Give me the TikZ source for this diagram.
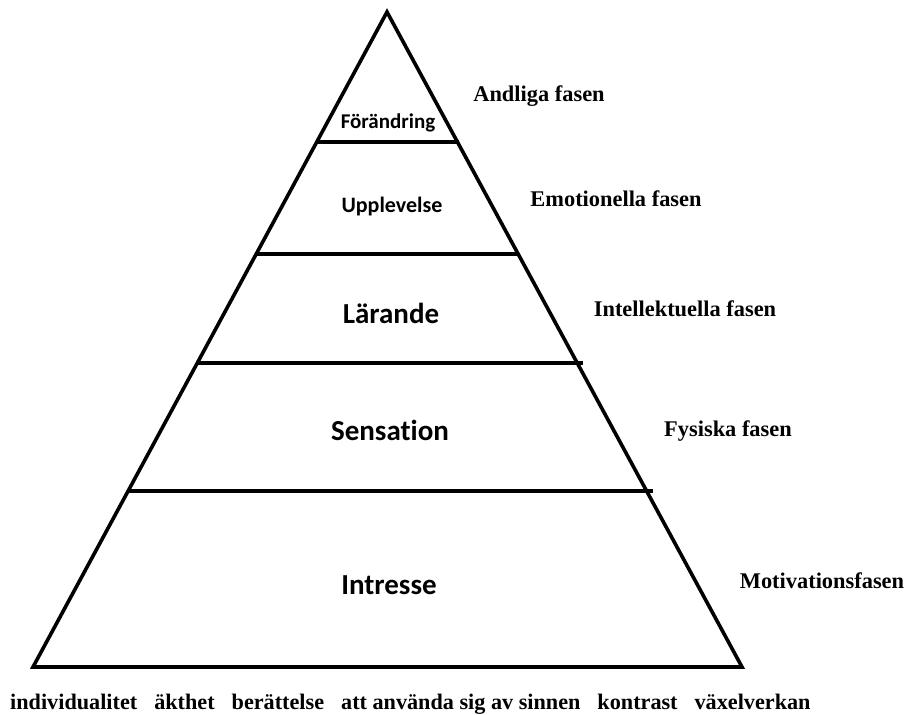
\documentclass[tikz,border=0pt]{standalone}
\usepackage{fontspec}
\setmainfont{Liberation Serif}
\setsansfont{Carlito}[Ligatures={NoCommon}]
\begin{document}
\begin{tikzpicture}[x=1pt,y=-1pt,
  edge/.style={line width=3.6pt, line join=miter},
  level/.style={line width=3.6pt},
  inner/.style={font=\sffamily\bfseries\fontsize{#1}{#1}\selectfont, inner sep=0pt},
  phase/.style={font=\rmfamily\bfseries\fontsize{22.4}{22.4}\selectfont, inner sep=0pt}]
\useasboundingbox (0,0) rectangle (906,715);
\coordinate (apex) at (387,12);
\coordinate (bl) at (33,667);
\coordinate (br) at (742,667);
\draw[edge] (bl) -- (apex) -- (br) -- cycle;
% levels
\coordinate (l1a) at (316,142); \coordinate (l1b) at (459,142);
\coordinate (l2a) at (256,254); \coordinate (l2b) at (519,254);
\coordinate (l3a) at (196,363); \coordinate (l3b) at (583,363);
\coordinate (l4a) at (128,491); \coordinate (l4b) at (653,491);
\draw[level] (l1a) -- (l1b);
\draw[level] (l2a) -- (l2b);
\draw[level] (l3a) -- (l3b);
\draw[level] (l4a) -- (l4b);
% inner labels
\node[inner=21] (forandring) at (388,123) {Förändring};
\node[inner=22] (upplevelse) at (392,207) {Upplevelse};
\node[inner=29] (larande) at (391,313) {Lärande};
\node[inner=29] (sensation) at (390,430) {Sensation};
\node[inner=29] (intresse) at (389,585) {Intresse};
% phases
\node[phase] (andliga) at (539,96) {Andliga fasen};
\node[phase] (emotionella) at (616,199) {Emotionella fasen};
\node[phase] (intellektuella) at (685,309) {Intellektuella fasen};
\node[phase] (fysiska) at (728,431) {Fysiska fasen};
\node[phase] (motivation) at (822,581) {Motivationsfasen};
% bottom
\node[inner sep=0pt, anchor=west, font=\rmfamily\bfseries\fontsize{22.2}{22.2}\selectfont] (bottom) at (10,704) {individualitet\hspace{17pt}äkthet\hspace{17pt}berättelse\hspace{17pt}att använda sig av sinnen\hspace{17pt}kontrast\hspace{17pt}växelverkan};
\end{tikzpicture}
\end{document}
